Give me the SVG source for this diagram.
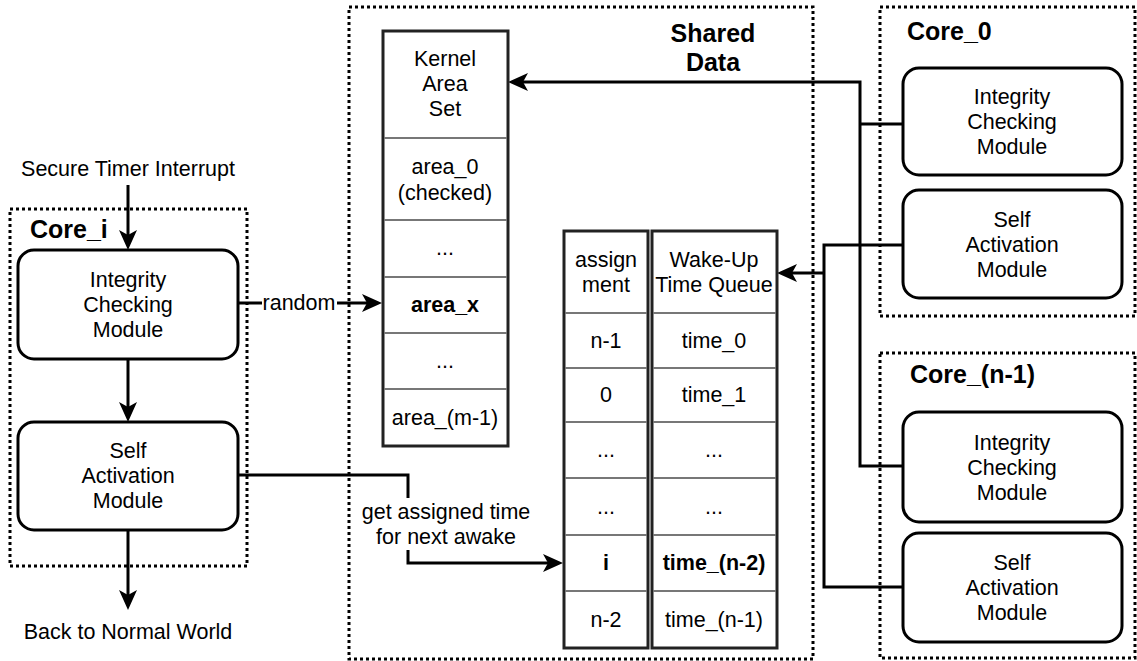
<svg xmlns="http://www.w3.org/2000/svg" width="1137" height="661" viewBox="0 0 1137 661">
<style>
.t{font-family:"Liberation Sans",Arial,Helvetica,sans-serif;font-size:21.5px;text-anchor:middle;fill:#000}
.ttl{font-family:"Liberation Sans",Arial,Helvetica,sans-serif;font-size:25px;font-weight:bold;fill:#000}
.dot{fill:none;stroke:#000;stroke-width:3;stroke-dasharray:3 3}
.mod{fill:#fff;stroke:#000;stroke-width:3}
.tbl{fill:#fff;stroke:#222;stroke-width:3}
.dv{stroke:#777;stroke-width:2}
.conn{fill:none;stroke:#000;stroke-width:3}
</style>
<defs>
<marker id="arr" viewBox="0 0 20 20" refX="10" refY="10" markerWidth="20" markerHeight="20" markerUnits="userSpaceOnUse" orient="auto">
<path d="M0,1 L20,10 L0,19 L5,10 Z" fill="#000"/>
</marker>
</defs>
<rect width="1137" height="661" fill="#fff"/>

<g id="containers">
<rect class="dot" x="10" y="209" width="237" height="357"/>
<rect class="dot" x="349" y="7" width="464" height="652"/>
<rect class="dot" x="880" y="7" width="255" height="309"/>
<rect class="dot" x="880" y="353" width="255" height="305"/>
<text class="ttl" x="30" y="238">Core_i</text>
<text class="ttl" x="713" y="42" text-anchor="middle">Shared</text>
<text class="ttl" x="713" y="71" text-anchor="middle">Data</text>
<text class="ttl" x="907" y="40">Core_0</text>
<text class="ttl" x="910" y="383">Core_(n-1)</text>
</g>

<g id="connectors">
<text class="t" x="128" y="176">Secure Timer Interrupt</text>
<path class="conn" d="M128,185 V240" marker-end="url(#arr)"/>
<path class="conn" d="M128,359 V412" marker-end="url(#arr)"/>
<path class="conn" d="M128,530 V600" marker-end="url(#arr)"/>
<text class="t" x="128" y="639">Back to Normal World</text>
<path class="conn" d="M238,303 H372" marker-end="url(#arr)"/>
<rect x="262" y="292" width="75" height="22" fill="#fff"/>
<text class="t" x="299" y="310">random</text>
<path class="conn" d="M238,475 H408 V563 H553" marker-end="url(#arr)"/>
<rect x="360" y="498" width="172" height="52" fill="#fff"/>
<text class="t" x="446" y="519">get assigned time</text>
<text class="t" x="446" y="544">for next awake</text>
<path class="conn" d="M903,466 H860 V82 H518" marker-end="url(#arr)"/>
<path class="conn" d="M903,124 H860"/>
<path class="conn" d="M903,587 H824 V245 H903"/>
<path class="conn" d="M824,273 H787" marker-end="url(#arr)"/>
</g>

<g id="corei-integrity">
<rect class="mod" x="18" y="250" width="220" height="109" rx="16"/>
<text class="t" x="128" y="287">Integrity</text>
<text class="t" x="128" y="312">Checking</text>
<text class="t" x="128" y="337">Module</text>
</g>
<g id="corei-selfact">
<rect class="mod" x="18" y="422" width="220" height="108" rx="16"/>
<text class="t" x="128" y="458">Self</text>
<text class="t" x="128" y="483">Activation</text>
<text class="t" x="128" y="508">Module</text>
</g>

<g id="kernel-area-set">
<rect class="tbl" x="383" y="31" width="125" height="415"/>
<line class="dv" x1="384" y1="138" x2="507" y2="138"/>
<line class="dv" x1="384" y1="220" x2="507" y2="220"/>
<line class="dv" x1="384" y1="277" x2="507" y2="277"/>
<line class="dv" x1="384" y1="333" x2="507" y2="333"/>
<line class="dv" x1="384" y1="389" x2="507" y2="389"/>
<text class="t" x="445" y="66">Kernel</text>
<text class="t" x="445" y="91">Area</text>
<text class="t" x="445" y="116">Set</text>
<text class="t" x="445" y="174">area_0</text>
<text class="t" x="445" y="200">(checked)</text>
<text class="t" x="445" y="255">...</text>
<text class="t" x="445" y="312" font-weight="bold">area_x</text>
<text class="t" x="445" y="368">...</text>
<text class="t" x="445" y="425">area_(m-1)</text>
</g>

<g id="assignment-table">
<rect class="tbl" x="564" y="231" width="84" height="417"/>
<line class="dv" x1="565" y1="313" x2="647" y2="313"/>
<line class="dv" x1="565" y1="368" x2="647" y2="368"/>
<line class="dv" x1="565" y1="422" x2="647" y2="422"/>
<line class="dv" x1="565" y1="478" x2="647" y2="478"/>
<line class="dv" x1="565" y1="535" x2="647" y2="535"/>
<line class="dv" x1="565" y1="591" x2="647" y2="591"/>
<text class="t" x="606" y="267">assign</text>
<text class="t" x="606" y="292">ment</text>
<text class="t" x="606" y="348">n-1</text>
<text class="t" x="606" y="402">0</text>
<text class="t" x="606" y="457">...</text>
<text class="t" x="606" y="514">...</text>
<text class="t" x="606" y="570" font-weight="bold">i</text>
<text class="t" x="606" y="627">n-2</text>
</g>

<g id="wakeup-queue">
<rect class="tbl" x="652" y="231" width="125" height="417"/>
<line class="dv" x1="653" y1="313" x2="776" y2="313"/>
<line class="dv" x1="653" y1="368" x2="776" y2="368"/>
<line class="dv" x1="653" y1="422" x2="776" y2="422"/>
<line class="dv" x1="653" y1="478" x2="776" y2="478"/>
<line class="dv" x1="653" y1="535" x2="776" y2="535"/>
<line class="dv" x1="653" y1="591" x2="776" y2="591"/>
<text class="t" x="714" y="267">Wake-Up</text>
<text class="t" x="714" y="292">Time Queue</text>
<text class="t" x="714" y="348">time_0</text>
<text class="t" x="714" y="402">time_1</text>
<text class="t" x="714" y="457">...</text>
<text class="t" x="714" y="514">...</text>
<text class="t" x="714" y="570" font-weight="bold">time_(n-2)</text>
<text class="t" x="714" y="627">time_(n-1)</text>
</g>

<g id="core0-integrity">
<rect class="mod" x="903" y="68" width="219" height="107" rx="16"/>
<text class="t" x="1012" y="104">Integrity</text>
<text class="t" x="1012" y="129">Checking</text>
<text class="t" x="1012" y="154">Module</text>
</g>
<g id="core0-selfact">
<rect class="mod" x="903" y="190" width="219" height="108" rx="16"/>
<text class="t" x="1012" y="227">Self</text>
<text class="t" x="1012" y="252">Activation</text>
<text class="t" x="1012" y="277">Module</text>
</g>
<g id="coren1-integrity">
<rect class="mod" x="903" y="412" width="219" height="110" rx="16"/>
<text class="t" x="1012" y="450">Integrity</text>
<text class="t" x="1012" y="475">Checking</text>
<text class="t" x="1012" y="500">Module</text>
</g>
<g id="coren1-selfact">
<rect class="mod" x="903" y="533" width="219" height="109" rx="16"/>
<text class="t" x="1012" y="570">Self</text>
<text class="t" x="1012" y="595">Activation</text>
<text class="t" x="1012" y="620">Module</text>
</g>
</svg>
